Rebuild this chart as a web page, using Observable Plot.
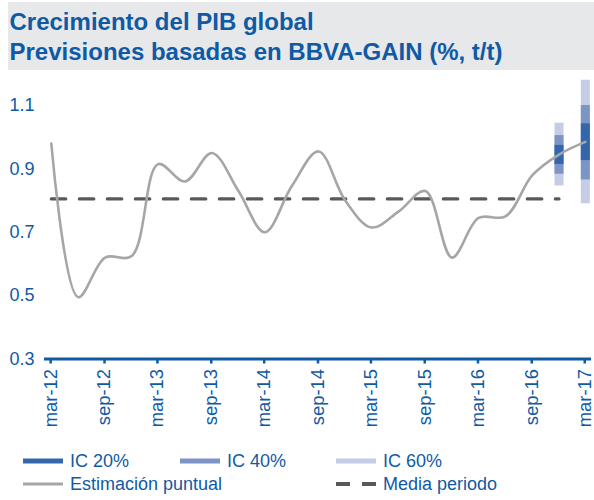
<!DOCTYPE html>
<html>
<head>
<meta charset="utf-8">
<script src="https://cdn.jsdelivr.net/npm/d3@7"></script>
<script src="https://cdn.jsdelivr.net/npm/@observablehq/plot@0.6"></script>
<style>
  html, body { margin: 0; padding: 0; background: #fff; width: 594px; height: 500px; overflow: hidden; }
  body { font-family: "Liberation Sans", Arial, sans-serif; color: #0f5aa5; }
  .title { margin: 2px 0 9px 8px; height: 68px; background: #e7e8ea; box-sizing: border-box;
           padding: 5px 0 0 1.5px; font-weight: bold; font-size: 24px; line-height: 29.5px; color: #0f5aa5; }
  .legend { position: relative; height: 55px; font-size: 18px; }
  .item { position: absolute; display: flex; align-items: center; white-space: nowrap; }
  .item svg { margin-right: 7px; }
</style>
</head>
<body>
<div class="title">Crecimiento del PIB global<br>Previsiones basadas en BBVA-GAIN (%, t/t)</div>
<div id="chart"></div>
<div class="legend" id="legend"></div>
<script>
// ---- data ----
const quarters = ["2012-03-15","2012-06-15","2012-09-15","2012-12-15","2013-03-15","2013-06-15","2013-09-15",
  "2013-12-15","2014-03-15","2014-06-15","2014-09-15","2014-12-15","2015-03-15","2015-06-15","2015-09-15",
  "2015-12-15","2016-03-15","2016-06-15","2016-09-15","2016-12-15","2017-03-15"];
const estimacionPuntual = [0.98, 0.495, 0.62, 0.625, 0.915, 0.86, 0.95, 0.83, 0.70, 0.845, 0.955, 0.80,
  0.715, 0.765, 0.83, 0.62, 0.745, 0.75, 0.88, 0.945, 0.985];
const mediaPeriodo = 0.805;
const mediaQuarters = quarters.slice(0, 20);

const ciDates = ["2016-12-15", "2017-03-15"];
const ci20Low = [0.914, 0.926], ci20High = [0.974, 1.042];
const ci40Low = [0.883, 0.865], ci40High = [1.005, 1.10];
const ci60Low = [0.846, 0.79],  ci60High = [1.044, 1.18];

const tickDates = ["2012-03-01","2012-09-01","2013-03-01","2013-09-01","2014-03-01","2014-09-01",
  "2015-03-01","2015-09-01","2016-03-01","2016-09-01","2017-03-01"];
const tickLabels = ["mar-12","sep-12","mar-13","sep-13","mar-14","sep-14","mar-15","sep-15","mar-16","sep-16","mar-17"];
const yTicks = [0.3, 0.5, 0.7, 0.9, 1.1];

const legendItems = ["IC 20%", "IC 40%", "IC 60%", "Estimación puntual", "Media periodo"];

// ---- styles ----
const BLUE = "#0f5aa5";
const C20 = "#3466ab", C40 = "#7c94c6", C60 = "#c4cce6";
const GRAY = "#a6a6a6", DARK = "#595959";

const dt = s => new Date(s + "T00:00:00Z");
const tickD = tickDates.map(dt);
const idxQ = quarters.map((d, i) => i);
const idxC = ciDates.map((d, i) => i);

const plot = Plot.plot({
  width: 594, height: 366,
  marginLeft: 44, marginRight: 3, marginTop: 0, marginBottom: 86.5,
  x: {type: "utc", domain: [dt("2012-03-01"), dt("2017-04-01")], range: [46.7, 589.8]},
  y: {domain: [0.3, 1.2], range: [279.5, 279.5 - 0.9 * 316.9]},
  style: {fontFamily: "'Liberation Sans', Arial, sans-serif", fontSize: "18px", color: BLUE,
          background: "transparent", overflow: "visible"},
  marks: [
    Plot.axisY({ticks: yTicks, tickSize: 0, tickPadding: 10, tickFormat: d => d.toFixed(1), label: null}),
    Plot.axisX({ticks: tickD, tickRotate: -90, tickSize: 5, tickPadding: 5, strokeWidth: 2.5, label: null,
      fontSize: 18.4, dx: 3.5,
      tickFormat: d => tickLabels[tickD.findIndex(t => +t === +d)]}),
    Plot.ruleY([0.3], {stroke: BLUE, strokeWidth: 3}),
    Plot.line(mediaQuarters, {x: d => dt(d), y: () => mediaPeriodo, stroke: DARK, strokeWidth: 3.2,
      strokeDasharray: "14.5,13.5"}),
    Plot.ruleX(idxC, {x: i => dt(ciDates[i]), y1: i => ci60Low[i], y2: i => ci60High[i], stroke: C60, strokeWidth: 9}),
    Plot.ruleX(idxC, {x: i => dt(ciDates[i]), y1: i => ci40Low[i], y2: i => ci40High[i], stroke: C40, strokeWidth: 9}),
    Plot.ruleX(idxC, {x: i => dt(ciDates[i]), y1: i => ci20Low[i], y2: i => ci20High[i], stroke: C20, strokeWidth: 9}),
    Plot.line(idxQ, {x: i => dt(quarters[i]), y: i => estimacionPuntual[i], curve: "catmull-rom",
      stroke: GRAY, strokeWidth: 2.6})
  ]
});
document.getElementById("chart").appendChild(plot);

// ---- legend ----
const legendSwatches = [
  {color: C20, w: 5}, {color: C40, w: 5}, {color: C60, w: 5}, {color: GRAY, w: 3}, {color: DARK, w: 4, dash: "14,12"}
];
const pos = [[23, 16], [180, 16], [336, 16], [23, 39], [336, 39]];
const leg = document.getElementById("legend");
legendItems.forEach((label, i) => {
  const s = legendSwatches[i];
  const el = document.createElement("div");
  el.className = "item";
  el.style.left = pos[i][0] + "px";
  el.style.top = (pos[i][1] - 11) + "px";
  el.style.height = "22px";
  el.innerHTML = `<svg width="40" height="8"><line x1="0" x2="40" y1="4" y2="4" stroke="${s.color}" stroke-width="${s.w}"${s.dash ? ` stroke-dasharray="${s.dash}"` : ""}/></svg><span>${label}</span>`;
  leg.appendChild(el);
});
</script>
</body>
</html>
